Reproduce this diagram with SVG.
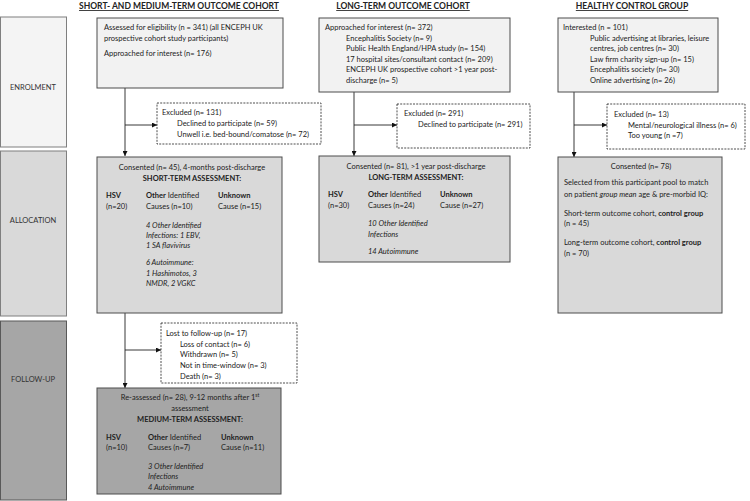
<svg xmlns="http://www.w3.org/2000/svg" width="750" height="501" viewBox="0 0 750 501">
<defs>
<marker id="arr" viewBox="0 0 6 6" refX="6" refY="3" markerWidth="5" markerHeight="5" orient="auto" markerUnits="userSpaceOnUse">
<path d="M0,0 L6,3 L0,6 Z" fill="#111"/>
</marker>
</defs>
<style>
text{font-family:Lato,"Open Sans","Liberation Sans",sans-serif;font-size:7.5px;fill:#222}
.hd{font-weight:bold;text-decoration:underline;font-size:8.5px}
.st{fill:#333}
.b{font-weight:bold}
.i{font-style:italic}
.c{text-anchor:middle}
.enr{fill:#f2f2f2;stroke:#4d4d4d;stroke-width:1}
.alc{fill:#d9d9d9;stroke:#4d4d4d;stroke-width:1}
.fu{fill:#a6a6a6;stroke:#4d4d4d;stroke-width:1}
.sg1{fill:#f4f4f4;stroke:#7f7f7f;stroke-width:1}
.sg2{fill:#d9d9d9;stroke:#7f7f7f;stroke-width:1}
.sg3{fill:#a6a6a6;stroke:#595959;stroke-width:1}
.ex{fill:#fff;stroke:#222;stroke-width:0.8;stroke-dasharray:2,1.2}
.ln{fill:none;stroke:#222;stroke-width:0.9}
</style>
<rect width="750" height="501" fill="#fff"/>

<g id="headers">
<text class="hd c" x="179" y="9">SHORT- AND MEDIUM-TERM OUTCOME COHORT</text>
<text class="hd c" x="403" y="9">LONG-TERM OUTCOME COHORT</text>
<text class="hd c" x="632" y="9">HEALTHY CONTROL GROUP</text>
</g>

<g id="stage-enrolment"><rect class="sg1" x="0.5" y="17" width="66" height="130"/><text class="c st" x="33" y="90">ENROLMENT</text></g>
<g id="stage-allocation"><rect class="sg2" x="0.5" y="151" width="66" height="165"/><text class="c st" x="33" y="223">ALLOCATION</text></g>
<g id="stage-followup"><rect class="sg3" x="0.5" y="321" width="66" height="179"/><text class="c st" x="33" y="382">FOLLOW-UP</text></g>

<g id="connectors">
<path class="ln" d="M125,88 V156" marker-end="url(#arr)"/>
<path class="ln" d="M125,125 H157" marker-end="url(#arr)"/>
<path class="ln" d="M125,313 V388" marker-end="url(#arr)"/>
<path class="ln" d="M125,350 H161" marker-end="url(#arr)"/>
<path class="ln" d="M354,92 V156" marker-end="url(#arr)"/>
<path class="ln" d="M354,125 H397" marker-end="url(#arr)"/>
<path class="ln" d="M574,92 V157" marker-end="url(#arr)"/>
<path class="ln" d="M574,125 H607" marker-end="url(#arr)"/>
</g>

<g id="left-enrolment">
<rect class="enr" x="97" y="18" width="186" height="70"/>
<text x="104" y="30">Assessed for eligibility (n = 341) (all ENCEPH UK</text>
<text x="104" y="41">prospective cohort study participants)</text>
<text x="104" y="56">Approached for interest (n= 176)</text>
</g>

<g id="left-excluded">
<rect class="ex" x="157" y="103" width="164" height="41"/>
<text x="162" y="115">Excluded (n= 131)</text>
<text x="177" y="126">Declined to participate (n= 59)</text>
<text x="177" y="137">Unwell i.e. bed-bound/comatose (n= 72)</text>
</g>

<g id="left-consented">
<rect class="alc" x="97" y="157" width="185" height="156"/>
<text class="c" x="192" y="170">Consented (n= 45), 4-months post-discharge</text>
<text class="c b" x="192" y="181">SHORT-TERM ASSESSMENT:</text>
<text class="b" x="106" y="198">HSV</text>
<text x="106" y="209">(n=20)</text>
<text x="146" y="198"><tspan class="b">Other</tspan> Identified</text>
<text x="146" y="209">Causes (n=10)</text>
<text class="b" x="218" y="198">Unknown</text>
<text x="218" y="209">Cause (n=15)</text>
<text class="i" x="146" y="228">4 Other Identified</text>
<text class="i" x="146" y="238">Infections: 1 EBV,</text>
<text class="i" x="146" y="248">1 SA flavivirus</text>
<text class="i" x="146" y="265">6 Autoimmune:</text>
<text class="i" x="146" y="276">1 Hashimotos, 3</text>
<text class="i" x="146" y="286">NMDR, 2 VGKC</text>
</g>

<g id="left-lost">
<rect class="ex" x="161" y="323" width="136" height="60"/>
<text x="166" y="336">Lost to follow-up (n= 17)</text>
<text x="180" y="347">Loss of contact (n= 6)</text>
<text x="180" y="357">Withdrawn (n= 5)</text>
<text x="180" y="368">Not in time-window (n= 3)</text>
<text x="180" y="379">Death (n= 3)</text>
</g>

<g id="left-followup">
<rect class="fu" x="97" y="388" width="184" height="106"/>
<text class="c" x="190" y="400">Re-assessed (n= 28), 9-12 months after 1<tspan font-size="5" dy="-3">st</tspan></text>
<text class="c" x="190" y="411">assessment</text>
<text class="c b" x="190" y="422">MEDIUM-TERM ASSESSMENT:</text>
<text class="b" x="106" y="440">HSV</text>
<text x="106" y="450">(n=10)</text>
<text x="148" y="440"><tspan class="b">Other</tspan> Identified</text>
<text x="148" y="450">Causes (n=7)</text>
<text class="b" x="221" y="440">Unknown</text>
<text x="221" y="450">Cause (n=11)</text>
<text class="i" x="148" y="469">3 Other Identified</text>
<text class="i" x="148" y="479">Infections</text>
<text class="i" x="148" y="490">4 Autoimmune</text>
</g>

<g id="mid-enrolment">
<rect class="enr" x="319" y="18" width="191" height="74"/>
<text x="325" y="30">Approached for interest (n= 372)</text>
<text x="346" y="41">Encephalitis Society (n= 9)</text>
<text x="346" y="51">Public Health England/HPA study (n= 154)</text>
<text x="346" y="62">17 hospital sites/consultant contact (n= 209)</text>
<text x="346" y="72">ENCEPH UK prospective cohort &gt;1 year post-</text>
<text x="346" y="83">discharge (n= 5)</text>
</g>

<g id="mid-excluded">
<rect class="ex" x="397" y="104" width="133" height="44"/>
<text x="404" y="116">Excluded (n= 291)</text>
<text x="418" y="127">Declined to participate (n= 291)</text>
</g>

<g id="mid-consented">
<rect class="alc" x="319" y="156" width="191" height="106"/>
<text class="c" x="416" y="169">Consented (n= 81), &gt;1 year post-discharge</text>
<text class="c b" x="416" y="180">LONG-TERM ASSESSMENT:</text>
<text class="b" x="328" y="197">HSV</text>
<text x="328" y="208">(n=30)</text>
<text x="368" y="197"><tspan class="b">Other</tspan> Identified</text>
<text x="368" y="208">Causes (n=24)</text>
<text class="b" x="440" y="197">Unknown</text>
<text x="440" y="208">Cause (n=27)</text>
<text class="i" x="368" y="226">10 Other Identified</text>
<text class="i" x="368" y="237">Infections</text>
<text class="i" x="368" y="254">14 Autoimmune</text>
</g>

<g id="right-enrolment">
<rect class="enr" x="558" y="18" width="160" height="74"/>
<text x="563" y="30">Interested (n = 101)</text>
<text x="590" y="41">Public advertising at libraries, leisure</text>
<text x="590" y="51">centres, job centres (n= 30)</text>
<text x="590" y="62">Law firm charity sign-up (n= 15)</text>
<text x="590" y="72">Encephalitis society (n= 30)</text>
<text x="590" y="83">Online advertising (n= 26)</text>
</g>

<g id="right-excluded">
<rect class="ex" x="607" y="104" width="138" height="45"/>
<text x="614" y="117">Excluded (n= 13)</text>
<text x="628" y="128">Mental/neurological illness (n= 6)</text>
<text x="628" y="138">Too young (n =7)</text>
</g>

<g id="right-consented">
<rect class="alc" x="558" y="157" width="164" height="156"/>
<text class="c" x="641" y="169">Consented (n= 78)</text>
<text x="564" y="185">Selected from this participant pool to match</text>
<text x="564" y="197">on patient <tspan class="i">group mean</tspan> age &amp; pre-morbid IQ:</text>
<text x="564" y="216">Short-term outcome cohort, <tspan class="b">control group</tspan></text>
<text x="564" y="226">(n = 45)</text>
<text x="564" y="245">Long-term outcome cohort, <tspan class="b">control group</tspan></text>
<text x="564" y="256">(n = 70)</text>
</g>
</svg>
